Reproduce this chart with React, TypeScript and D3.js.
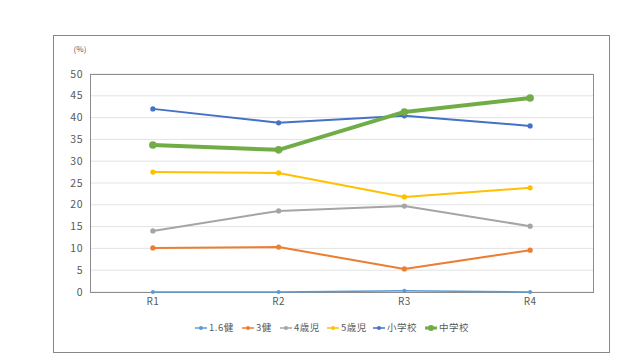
import React from 'react';
import * as d3 from 'd3';

const categories = ['R1', 'R2', 'R3', 'R4'];
const seriesNames = ['1.6健', '3健', '4歳児', '5歳児', '小学校', '中学校'];
const seriesColors = ['#5B9BD5', '#ED7D31', '#A5A5A5', '#FFC000', '#4472C4', '#70AD47'];
const v16 = [0, 0, 0.3, 0];
const v3 = [10.1, 10.3, 5.3, 9.6];
const v4 = [14.0, 18.6, 19.7, 15.1];
const v5 = [27.5, 27.3, 21.8, 23.9];
const vElem = [42.0, 38.8, 40.4, 38.1];
const vJunior = [33.7, 32.6, 41.3, 44.5];
const yTicks = [0, 5, 10, 15, 20, 25, 30, 35, 40, 45, 50];

const allValues = [v16, v3, v4, v5, vElem, vJunior];

const App = () => {
  const W = 640;
  const H = 360;
  const plot = { left: 90, right: 593, top: 74, bottom: 292 };

  const x = d3.scaleBand().domain(categories).range([plot.left, plot.right]);
  const y = d3.scaleLinear().domain([0, 50]).range([plot.bottom, plot.top]);
  const cx = (c: string) => (x(c) as number) + x.bandwidth() / 2;

  const line = d3
    .line<number>()
    .x((_, i) => cx(categories[i]))
    .y((d) => y(d));

  const font = '"Noto Sans CJK JP", "Noto Sans", sans-serif';
  const textColor = '#595959';

  // legend: marker start x for each entry
  const legendX = [195, 242, 280, 327, 373, 425];

  return (
    <svg width={W} height={H} style={{ position: 'absolute', left: 0, top: 0 }}>
      <rect x={0} y={0} width={W} height={H} fill="#fff" />
      <rect x={53.5} y={35.5} width={556} height={317} fill="none" stroke="#888" strokeWidth={1} />

      {yTicks.map((t) => (
        <g key={t}>
          <line x1={plot.left} x2={plot.right} y1={y(t)} y2={y(t)} stroke="#E3E3E3" strokeWidth={1} />
          <text x={plot.left - 7} y={y(t)} dy="0.35em" textAnchor="end" fontSize={10.5} fill={textColor} fontFamily={font} letterSpacing={0.5}>
            {t}
          </text>
        </g>
      ))}
      <rect x={plot.left + 0.5} y={plot.top + 0.5} width={plot.right - plot.left} height={plot.bottom - plot.top} fill="none" stroke="#8c8c8c" strokeWidth={1} />
      <text x={80} y={52} textAnchor="middle" fontSize={8} fill={textColor} fontFamily={font}>
        (%)
      </text>

      {categories.map((c) => (
        <text key={c} x={cx(c)} y={305} textAnchor="middle" fontSize={10} fill={textColor} fontFamily={font} letterSpacing={0.5}>
          {c}
        </text>
      ))}

      {allValues.map((vals, si) => {
        const thick = si === 5;
        return (
          <g key={seriesNames[si]}>
            <path d={line(vals) as string} fill="none" stroke={seriesColors[si]} strokeWidth={thick ? 4 : si === 0 ? 1.5 : 2} strokeLinejoin="round" />
            {vals.map((v, i) => (
              <circle key={i} cx={cx(categories[i])} cy={y(v)} r={thick ? 3.8 : si === 0 ? 2 : 2.6} fill={seriesColors[si]} />
            ))}
          </g>
        );
      })}

      {seriesNames.map((name, si) => {
        const lx = legendX[si];
        const thick = si === 5;
        return (
          <g key={name}>
            <line x1={lx} x2={lx + 12} y1={328} y2={328} stroke={seriesColors[si]} strokeWidth={thick ? 3 : 1.5} />
            <circle cx={lx + 6} cy={328} r={thick ? 3 : 2} fill={seriesColors[si]} />
            <text x={lx + 14} y={328} dy="0.35em" fontSize={9.5} fill={textColor} fontFamily={font} letterSpacing={0.5}>
              {name}
            </text>
          </g>
        );
      })}
    </svg>
  );
};

export default App;
